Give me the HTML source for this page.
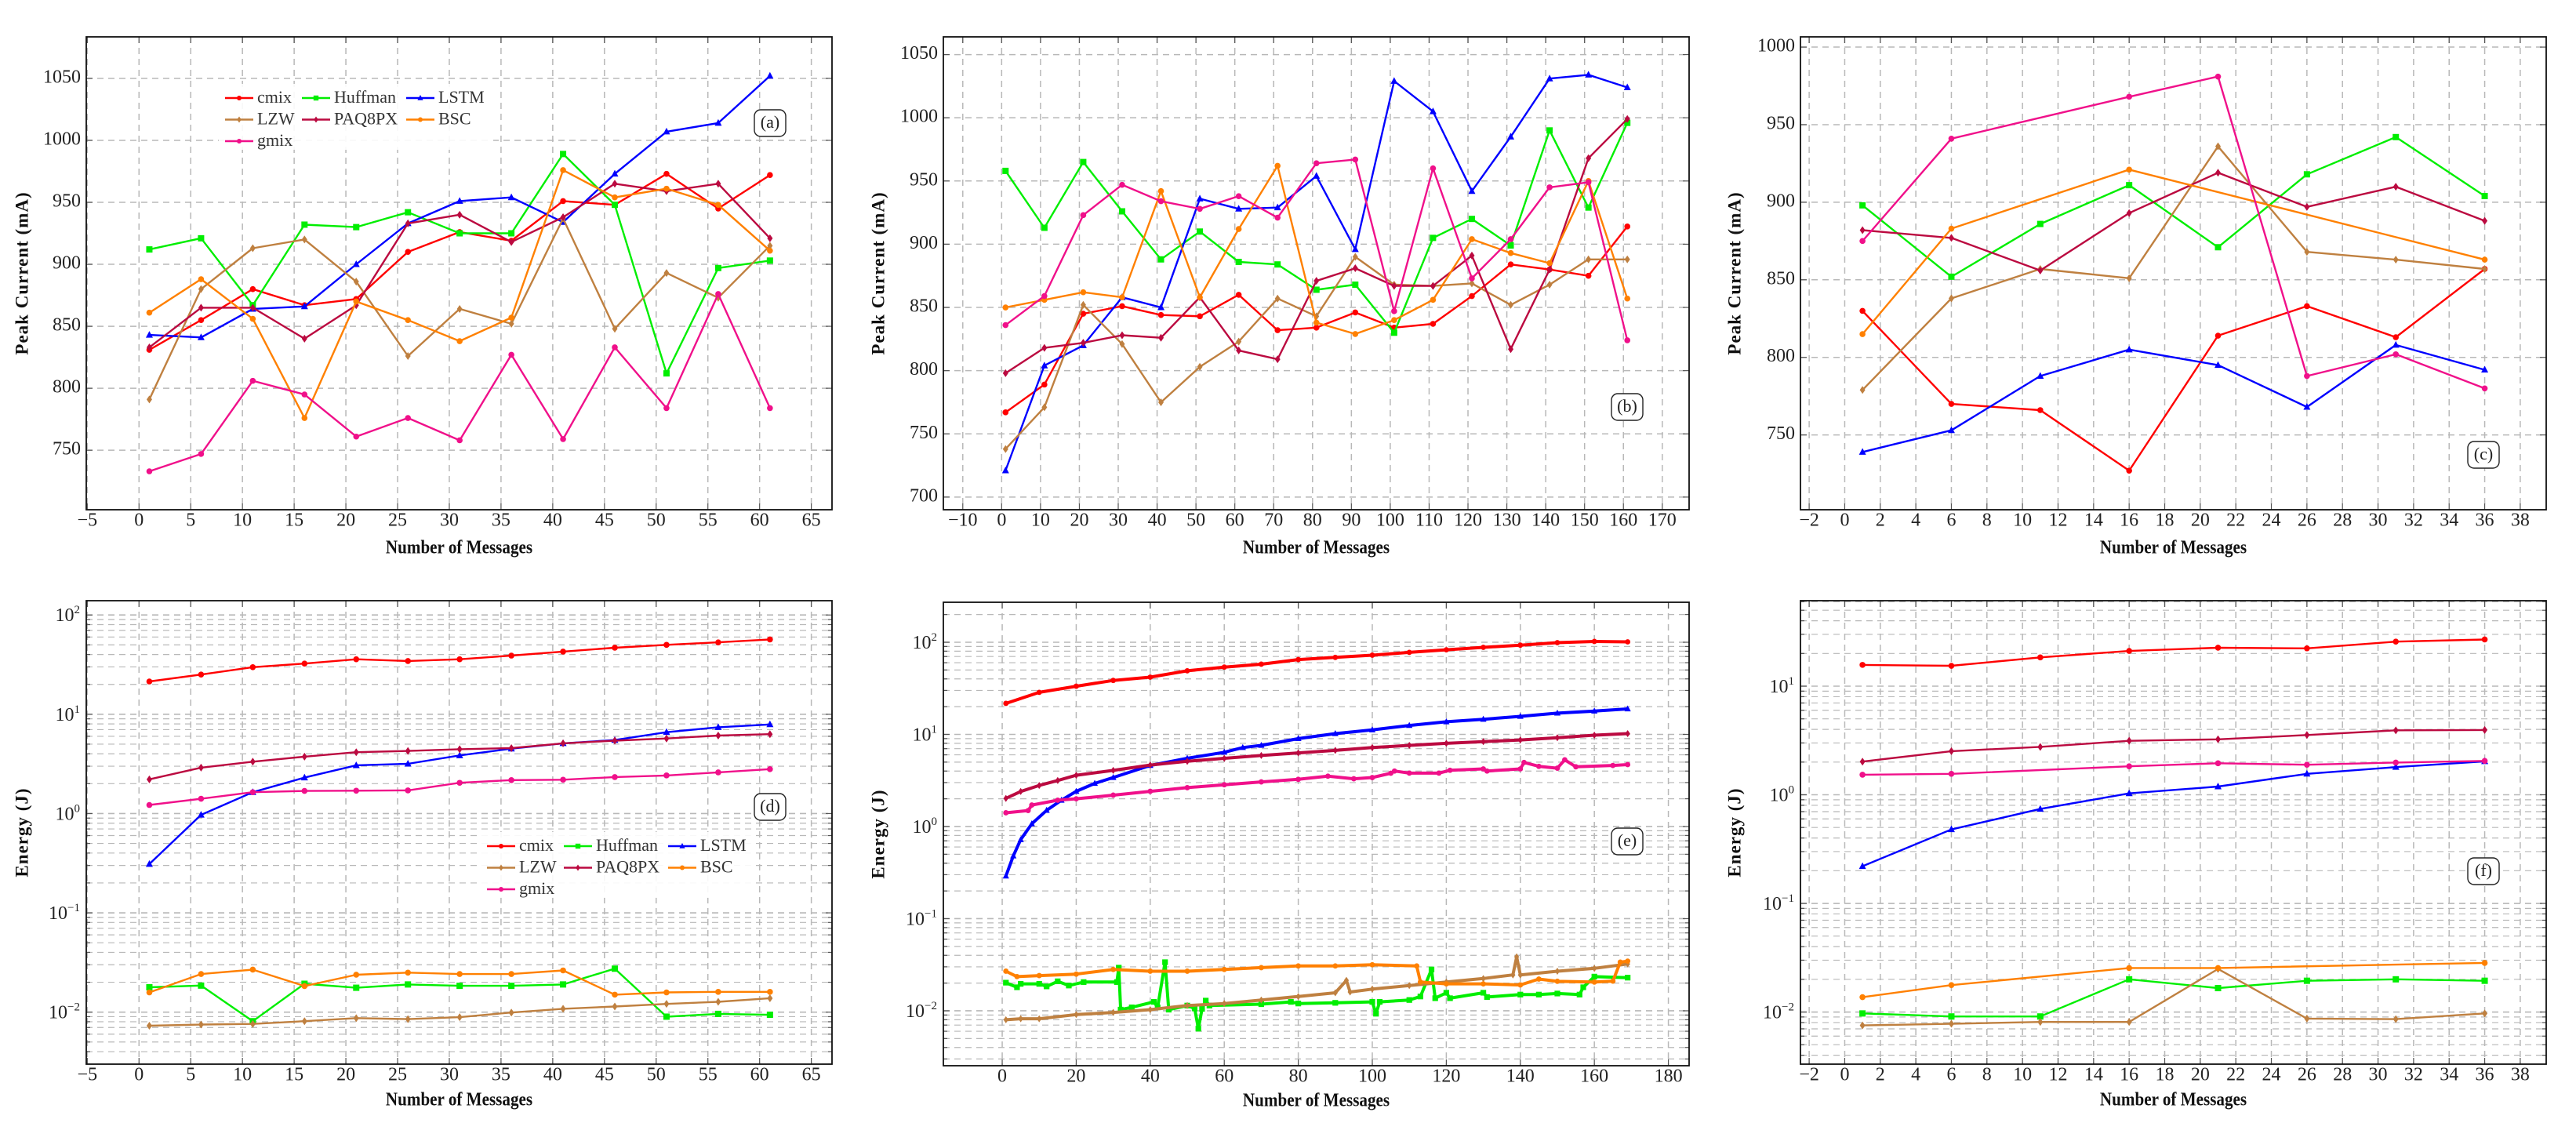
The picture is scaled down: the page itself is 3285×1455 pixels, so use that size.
<!DOCTYPE html>
<html><head><meta charset="utf-8"><style>
html,body{margin:0;padding:0;background:#fff;}
svg{display:block;font-family:"Liberation Serif",serif;}
</style></head><body>
<svg id="chart" width="3285" height="1455" viewBox="0 0 3285 1455" xmlns="http://www.w3.org/2000/svg"></svg>
<script>
// ---------- Data ----------
const seriesNames = ["cmix","Huffman","LSTM","LZW","PAQ8PX","BSC","gmix"];
const seriesColors = {cmix:"#ff0000",Huffman:"#00ee00",LSTM:"#0000ff",LZW:"#bf8040",PAQ8PX:"#bb0a40",BSC:"#ff8000",gmix:"#f0108a"};

// Panel (a)
const aX = [1,6,11,16,21,26,31,36,41,46,51,56,61];
const aCmix = [831,855,880,867,872,910,926,919,951,948,973,945,972];
const aHuffman = [912,921,867,932,930,942,925,925,989,948,812,897,903];
const aLSTM = [843,841,864,866,900,933,951,954,934,973,1007,1014,1052];
const aLZW = [791,880,913,920,886,826,864,852,937,848,893,873,915];
const aPAQ = [833,865,865,840,867,933,940,918,938,965,959,965,921];
const aBSC = [861,888,856,776,870,855,838,857,976,954,961,948,911];
const aGmix = [733,747,806,795,761,776,758,827,759,833,784,876,784];

// Panel (b)
const bX = [1,11,21,31,41,51,61,71,81,91,101,111,121,131,141,151,161];
const bCmix = [767,789,845,851,844,843,860,832,834,846,834,837,859,884,880,875,914];
const bHuffman = [958,913,965,926,888,910,886,884,864,868,830,905,920,899,990,929,996];
const bLSTM = [721,804,820,858,850,936,928,929,954,896,1029,1005,942,985,1031,1034,1024];
const bLZW = [738,771,852,821,775,803,823,857,843,890,868,867,869,852,868,888,888];
const bPAQ = [798,818,822,828,826,858,816,809,871,881,867,867,891,817,880,968,999];
const bBSC = [850,856,862,858,942,858,912,962,838,829,840,856,904,893,885,950,857];
const bGmix = [836,859,923,947,934,928,938,921,964,967,847,960,873,904,945,949,824];

// Panel (c)
const cX = [1,6,11,16,21,26,31,36];
const cCmix = [830,770,766,727,814,833,813,857];
const cHuffman = [898,852,886,911,871,918,942,904];
const cLSTM = [739,753,788,805,795,768,808,792];
const cLZW = [779,838,857,851,936,868,863,857];
const cPAQ = [882,877,856,893,919,897,910,888];
const cBSCX = [1,6,16,36];
const cBSC = [815,883,921,863];
const cGmixX = [1,6,16,21,26,31,36];
const cGmix = [875,941,968,981,788,802,780];

// Panel (d)
const dX = [1,6,11,16,21,26,31,36,41,46,51,56,61];
const dCmix = [21.4,25.1,29.8,32.4,35.8,34.4,35.8,39.0,42.8,46.8,50.0,53.0,56.7];
const dHuffman = [0.0178,0.0185,0.0081,0.0193,0.0176,0.0190,0.0184,0.0184,0.0190,0.0274,0.0090,0.0096,0.0094];
const dLSTM = [0.31,0.97,1.64,2.3,3.06,3.17,3.85,4.5,5.1,5.5,6.6,7.4,7.9];
const dLZW = [0.0073,0.0075,0.0076,0.0081,0.0087,0.0085,0.0089,0.0099,0.0108,0.0114,0.0121,0.0127,0.0138];
const dPAQ = [2.21,2.9,3.33,3.74,4.15,4.27,4.45,4.56,5.1,5.42,5.7,6.1,6.3];
const dBSC = [0.0158,0.0242,0.0268,0.0183,0.0238,0.0250,0.0242,0.0242,0.0263,0.0150,0.0158,0.0160,0.0160];
const dGmix = [1.22,1.41,1.64,1.69,1.70,1.71,2.04,2.17,2.19,2.33,2.42,2.6,2.8];

// Panel (e)
const eCmixX = [1,10,20,30,40,50,60,70,80,90,100,110,120,130,140,150,160,169];
const eCmix = [21.7,28.6,33.3,38.5,41.8,49,53.7,57.8,64.9,68.5,72.4,77.7,82.8,88,93,99,102,101];
const eLSTMX = [1,3,5,8,12,16,20,25,30,40,50,60,65,70,80,90,100,110,120,130,140,150,160,169];
const eLSTM = [0.29,0.48,0.72,1.07,1.5,1.93,2.41,2.94,3.4,4.6,5.5,6.4,7.2,7.6,9.0,10.2,11.2,12.5,13.7,14.6,15.7,17,17.9,18.9];
const ePAQX = [1,5,10,15,20,30,40,50,60,70,80,90,100,110,120,130,140,150,160,169];
const ePAQ = [2.02,2.4,2.79,3.16,3.6,4.07,4.65,5.1,5.5,5.9,6.3,6.7,7.2,7.6,8.0,8.35,8.7,9.2,9.8,10.2];
const eGmixX = [1,7,8,15,20,30,40,50,60,70,80,88,95,100,105,106,110,118,121,130,131,140,141,145,150,152,155,165,169];
const eGmix = [1.41,1.49,1.71,1.93,2.0,2.19,2.41,2.64,2.84,3.05,3.25,3.52,3.3,3.4,3.79,4.0,3.8,3.8,4.08,4.22,4.0,4.22,4.96,4.5,4.3,5.3,4.45,4.6,4.7];
const eHuffmanX = [1,4,5,10,12,15,18,22,31,31.5,32,35,41,42,44,45,50,52,53,54,55,56,70,78,80,90,100,101,102,110,113,116,117,120,121,130,131,140,145,150,156,157,160,169];
const eHuffman = [0.0202,0.0180,0.0196,0.0196,0.0184,0.0209,0.0188,0.0205,0.0205,0.0294,0.0103,0.0109,0.0125,0.0109,0.0337,0.0103,0.0114,0.0106,0.0064,0.0105,0.0129,0.0114,0.0118,0.0125,0.0120,0.0122,0.0125,0.0093,0.0125,0.0131,0.0143,0.0281,0.0137,0.0157,0.0137,0.0157,0.0141,0.0150,0.0150,0.0154,0.0150,0.0180,0.0235,0.0229];
const eBSCX = [1,4,10,20,30,40,50,60,70,80,90,100,112,113,120,130,140,145,150,160,165,167,169];
const eBSC = [0.0269,0.0235,0.0241,0.025,0.0281,0.0269,0.0269,0.0281,0.0294,0.0307,0.0307,0.0316,0.0307,0.0205,0.0196,0.0196,0.0191,0.0221,0.0209,0.0205,0.0210,0.0337,0.0346];
const eLZWX = [1,5,10,20,30,40,50,60,70,80,90,93,94,100,110,120,130,138,139,140,150,160,169];
const eLZW = [0.0080,0.0082,0.0082,0.0091,0.0096,0.0103,0.0114,0.012,0.0131,0.0143,0.0157,0.0214,0.016,0.0172,0.0188,0.0205,0.0224,0.0245,0.0385,0.0245,0.0269,0.0289,0.0322];

// Panel (f)
const fX = [1,6,11,16,21,26,31,36];
const fCmix = [15.7,15.4,18.4,21.1,22.6,22.3,25.7,26.9];
const fHuffman = [0.0097,0.0091,0.0091,0.0200,0.0166,0.0194,0.0200,0.0194];
const fLSTM = [0.22,0.48,0.74,1.03,1.19,1.56,1.8,2.03];
const fLZW = [0.00753,0.0078,0.0081,0.0081,0.0249,0.0087,0.0086,0.0097];
const fPAQ = [2.02,2.52,2.76,3.14,3.24,3.55,3.92,3.95];
const fBSCX = [1,6,16,21,36];
const fBSC = [0.0137,0.0177,0.0254,0.0254,0.0283];
const fGmix = [1.53,1.56,1.83,1.95,1.89,1.98,2.05];
const fGmixX = [1,6,16,21,26,31,36];

// Tick arrays
const aXTicks = [-5,0,5,10,15,20,25,30,35,40,45,50,55,60,65];
const bXTicks = [-10,0,10,20,30,40,50,60,70,80,90,100,110,120,130,140,150,160,170];
const cXTicks = [-2,0,2,4,6,8,10,12,14,16,18,20,22,24,26,28,30,32,34,36,38];
const eXTicks = [0,20,40,60,80,100,120,140,160,180];
const aYTicks = [750,800,850,900,950,1000,1050];
const bYTicks = [700,750,800,850,900,950,1000,1050];
const cYTicks = [750,800,850,900,950,1000];
const dYExps = [-2,-1,0,1,2];
const eYExps = [-2,-1,0,1,2];
const fYExps = [-2,-1,0,1];

// ---------- Drawing ----------
const NS = "http://www.w3.org/2000/svg";
const svg = document.getElementById('chart');
function mk(tag, attrs, parent){
  const e = document.createElementNS(NS, tag);
  for (const k in attrs) e.setAttribute(k, attrs[k]);
  (parent||svg).appendChild(e);
  return e;
}
const GRID = "#b8b8b8";

function panel(cfg){
  const g = mk('g', {});
  
  
  const [L,T,R,B] = cfg.box;
  const sx = v => L + (v - cfg.xr[0]) / (cfg.xr[1] - cfg.xr[0]) * (R - L);
  const sy = cfg.log
    ? v => B - (Math.log10(v) - cfg.yr[0]) / (cfg.yr[1] - cfg.yr[0]) * (B - T)
    : v => B - (v - cfg.yr[0]) / (cfg.yr[1] - cfg.yr[0]) * (B - T);
  // grid
  const grid = mk('g', {}, g);
  
  
  cfg.xticks.forEach(t => {
    const x = sx(t);
    mk('line', {x1:x, x2:x, y1:T, y2:B, stroke:GRID, 'stroke-width':1.5, 'stroke-dasharray':'8 6'}, grid);
  });
  if (cfg.log){
    const lo = Math.floor(cfg.yr[0]), hi = Math.ceil(cfg.yr[1]);
    for (let d = lo; d <= hi; d++){
      for (let k = 1; k <= 9; k++){
        const lv = d + Math.log10(k);
        if (lv < cfg.yr[0] || lv > cfg.yr[1]) continue;
        const y = sy(Math.pow(10, lv));
        mk('line', {x1:L, x2:R, y1:y, y2:y, stroke:GRID, 'stroke-width':k===1?1.6:1.2, 'stroke-dasharray':'8 6'}, grid);
        mk('line', {x1:L, x2:L+(k===1?8:5), y1:y, y2:y, stroke:'#555', 'stroke-width':1.2}, grid);
        mk('line', {x1:R, x2:R-(k===1?8:5), y1:y, y2:y, stroke:'#555', 'stroke-width':1.2}, grid);
      }
    }
  } else {
    cfg.yticks.forEach(t => {
      const y = sy(t);
      mk('line', {x1:L, x2:R, y1:y, y2:y, stroke:GRID, 'stroke-width':1.5, 'stroke-dasharray':'8 6'}, grid);
      mk('line', {x1:L, x2:L+8, y1:y, y2:y, stroke:'#555', 'stroke-width':1.2}, grid);
      mk('line', {x1:R, x2:R-8, y1:y, y2:y, stroke:'#555', 'stroke-width':1.2}, grid);
    });
  }
  cfg.xticks.forEach(t => {
    const x = sx(t);
    mk('line', {x1:x, x2:x, y1:B, y2:B-8, stroke:'#555', 'stroke-width':1.2}, grid);
    mk('line', {x1:x, x2:x, y1:T, y2:T+8, stroke:'#555', 'stroke-width':1.2}, grid);
  });
  // tick labels
  cfg.xticks.forEach(t => {
    const tx = mk('text', {x:sx(t), y:cfg.xlabY, 'font-size':24, 'text-anchor':'middle', 'dominant-baseline':'middle', fill:'#222'}, g);
    
    
    tx.textContent = t < 0 ? '\u2212' + Math.abs(t) : String(t);
  });
  if (cfg.log){
    cfg.yexps.forEach(e => {
      const y = sy(Math.pow(10, e));
      const tx = mk('text', {x:L-8, y:y+8, 'font-size':24, 'text-anchor':'end', fill:'#222'}, g);
      
      
      const b = mk('tspan', {}, tx); b.textContent = '10';
      const s = mk('tspan', {dy:-10, 'font-size':15}, tx); s.textContent = e < 0 ? '\u2212' + Math.abs(e) : String(e);
    });
  } else {
    cfg.yticks.forEach(t => {
      const tx = mk('text', {x:L-7, y:sy(t), 'font-size':24, 'text-anchor':'end', 'dominant-baseline':'middle', fill:'#222'}, g);
      
      
      tx.textContent = String(t);
    });
  }
  // axis titles
  const xt = mk('text', {x:(L+R)/2, y:cfg.xtitleY, 'font-size':24, 'font-weight':'bold', 'text-anchor':'middle', 'dominant-baseline':'middle', fill:'#111', transform:`translate(${(L+R)/2},0) scale(0.88,1) translate(${-(L+R)/2},0)`}, g);
  
  
  xt.textContent = 'Number of Messages';
  const ytY = (T+B)/2;
  const yt = mk('text', {x:0, y:0, 'font-size':23, 'font-weight':'bold', 'text-anchor':'middle', 'dominant-baseline':'middle', fill:'#111', transform:`translate(${cfg.ytitleX},${ytY}) rotate(-90)`, 'letter-spacing':'1'}, g);
  
  
  yt.textContent = cfg.ytitle;
  // series
  const clip = mk('clipPath', {id:'clip-'+cfg.id}, g);
  mk('rect', {x:L, y:T, width:R-L, height:B-T}, clip);
  const sg = mk('g', {'clip-path':`url(#clip-${cfg.id})`}, g);
  cfg.series.forEach(s => {
    const col = seriesColors[s.name];
    const pts = s.x.map((xv,i) => [sx(xv), sy(s.y[i])]);
    const pl = mk('polyline', {points: pts.map(p => p[0].toFixed(1)+','+p[1].toFixed(1)).join(' '), fill:'none', stroke:col, 'stroke-width':cfg.lw||2.4, 'stroke-linejoin':'round'}, sg);
    
    
    pts.forEach(p => marker(sg, s.name, p[0], p[1], cfg.ms||1));
  });
  // label box
  const lb = mk('g', {}, g);
  
  
  mk('rect', {x:cfg.lab[0]-20, y:cfg.lab[1]-17, width:40, height:34, rx:8, fill:'#fff', stroke:'#222', 'stroke-width':1.4}, lb);
  const lt = mk('text', {x:cfg.lab[0], y:cfg.lab[1]+1, 'font-size':22, 'text-anchor':'middle', 'dominant-baseline':'middle', fill:'#222'}, lb);
  lt.textContent = '(' + cfg.id + ')';
  // frame
  const fr = mk('rect', {x:L, y:T, width:R-L, height:B-T, fill:'none', stroke:'#111', 'stroke-width':1.8}, g);
  
  
  if (cfg.legend) legend(g, cfg.legend[0], cfg.legend[1], cfg.legendBg);
}

function marker(parent, name, x, y, s){
  const col = seriesColors[name];
  let m;
  if (name === 'Huffman') m = mk('rect', {x:x-4*s, y:y-4*s, width:8*s, height:8*s, fill:col}, parent);
  else if (name === 'LSTM') m = mk('polygon', {points:`${x},${y-5*s} ${x-4.5*s},${y+3.5*s} ${x+4.5*s},${y+3.5*s}`, fill:col}, parent);
  else if (name === 'LZW' || name === 'PAQ8PX') m = mk('polygon', {points:`${x},${y-5*s} ${x+3.5*s},${y} ${x},${y+5*s} ${x-3.5*s},${y}`, fill:col}, parent);
  else m = mk('circle', {cx:x, cy:y, r:3.8*s, fill:col}, parent);
  
  
}

function legend(parent, x0, y0, bg){
  const lg = mk('g', {}, parent);
  
  
  if (bg) mk('rect', {x:x0-8, y:y0-18, width:350, height:84, fill:'#fff', opacity:0.9}, lg);
  const colX = [0, 98, 231];
  seriesNames.forEach((n,i) => {
    const cx = x0 + colX[i%3], cy = y0 + Math.floor(i/3)*27.5;
    const e = mk('g', {}, lg);
    
    
    mk('line', {x1:cx, x2:cx+36, y1:cy, y2:cy, stroke:seriesColors[n], 'stroke-width':2.4}, e);
    marker(e, n, cx+18, cy, 0.8);
    const t = mk('text', {x:cx+41, y:cy+1, 'font-size':22, 'dominant-baseline':'middle', fill:'#333'}, e);
    t.textContent = n;
  });
}

function S(name, x, y){ return {name, x, y}; }

panel({id:'a', box:[110,47,1061,650], xr:[-5.1,67], yr:[702,1083.5], xticks:aXTicks, yticks:aYTicks,
  xlabY:665, xtitleY:700, ytitleX:30, ytitle:'Peak Current (mA)', lab:[982,157], legend:[287,125], legendBg:true,
  series:[S('cmix',aX,aCmix),S('Huffman',aX,aHuffman),S('LSTM',aX,aLSTM),S('LZW',aX,aLZW),S('PAQ8PX',aX,aPAQ),S('BSC',aX,aBSC),S('gmix',aX,aGmix)]});
panel({id:'b', box:[1203,47,2154,650], xr:[-15,176.9], yr:[690,1064], xticks:bXTicks, yticks:bYTicks,
  xlabY:665, xtitleY:700, ytitleX:1122, ytitle:'Peak Current (mA)', lab:[2075,519],
  series:[S('cmix',bX,bCmix),S('Huffman',bX,bHuffman),S('LSTM',bX,bLSTM),S('LZW',bX,bLZW),S('PAQ8PX',bX,bPAQ),S('BSC',bX,bBSC),S('gmix',bX,bGmix)]});
panel({id:'c', box:[2296,47,3247,650], xr:[-2.49,39.46], yr:[701.8,1006.6], xticks:cXTicks, yticks:cYTicks,
  xlabY:665, xtitleY:700, ytitleX:2214, ytitle:'Peak Current (mA)', lab:[3167,580],
  series:[S('cmix',cX,cCmix),S('Huffman',cX,cHuffman),S('LSTM',cX,cLSTM),S('LZW',cX,cLZW),S('PAQ8PX',cX,cPAQ),S('BSC',cBSCX,cBSC),S('gmix',cGmixX,cGmix)]});
panel({id:'d', log:true, box:[110,766,1061,1357], xr:[-5.1,67], yr:[-2.524,2.144], xticks:aXTicks, yexps:dYExps,
  xlabY:1372, xtitleY:1404, ytitleX:30, ytitle:'Energy (J)', lab:[982,1029], legend:[621,1079], legendBg:true,
  series:[S('cmix',dX,dCmix),S('Huffman',dX,dHuffman),S('LSTM',dX,dLSTM),S('LZW',dX,dLZW),S('PAQ8PX',dX,dPAQ),S('BSC',dX,dBSC),S('gmix',dX,dGmix)]});
panel({id:'e', log:true, box:[1203,768,2154,1359], xr:[-15.9,185.6], yr:[-2.596,2.434], xticks:eXTicks, yexps:eYExps, lw:4, ms:0.9,
  xlabY:1374, xtitleY:1405, ytitleX:1122, ytitle:'Energy (J)', lab:[2075,1073],
  series:[S('cmix',eCmixX,eCmix),S('Huffman',eHuffmanX,eHuffman),S('LSTM',eLSTMX,eLSTM),S('LZW',eLZWX,eLZW),S('PAQ8PX',ePAQX,ePAQ),S('BSC',eBSCX,eBSC),S('gmix',eGmixX,eGmix)]});
panel({id:'f', log:true, box:[2296,766,3247,1357], xr:[-2.49,39.46], yr:[-2.48,1.787], xticks:cXTicks, yexps:fYExps,
  xlabY:1372, xtitleY:1404, ytitleX:2214, ytitle:'Energy (J)', lab:[3167,1111],
  series:[S('cmix',fX,fCmix),S('Huffman',fX,fHuffman),S('LSTM',fX,fLSTM),S('LZW',fX,fLZW),S('PAQ8PX',fX,fPAQ),S('BSC',fBSCX,fBSC),S('gmix',fGmixX,fGmix)]});
</script>
</body></html>
